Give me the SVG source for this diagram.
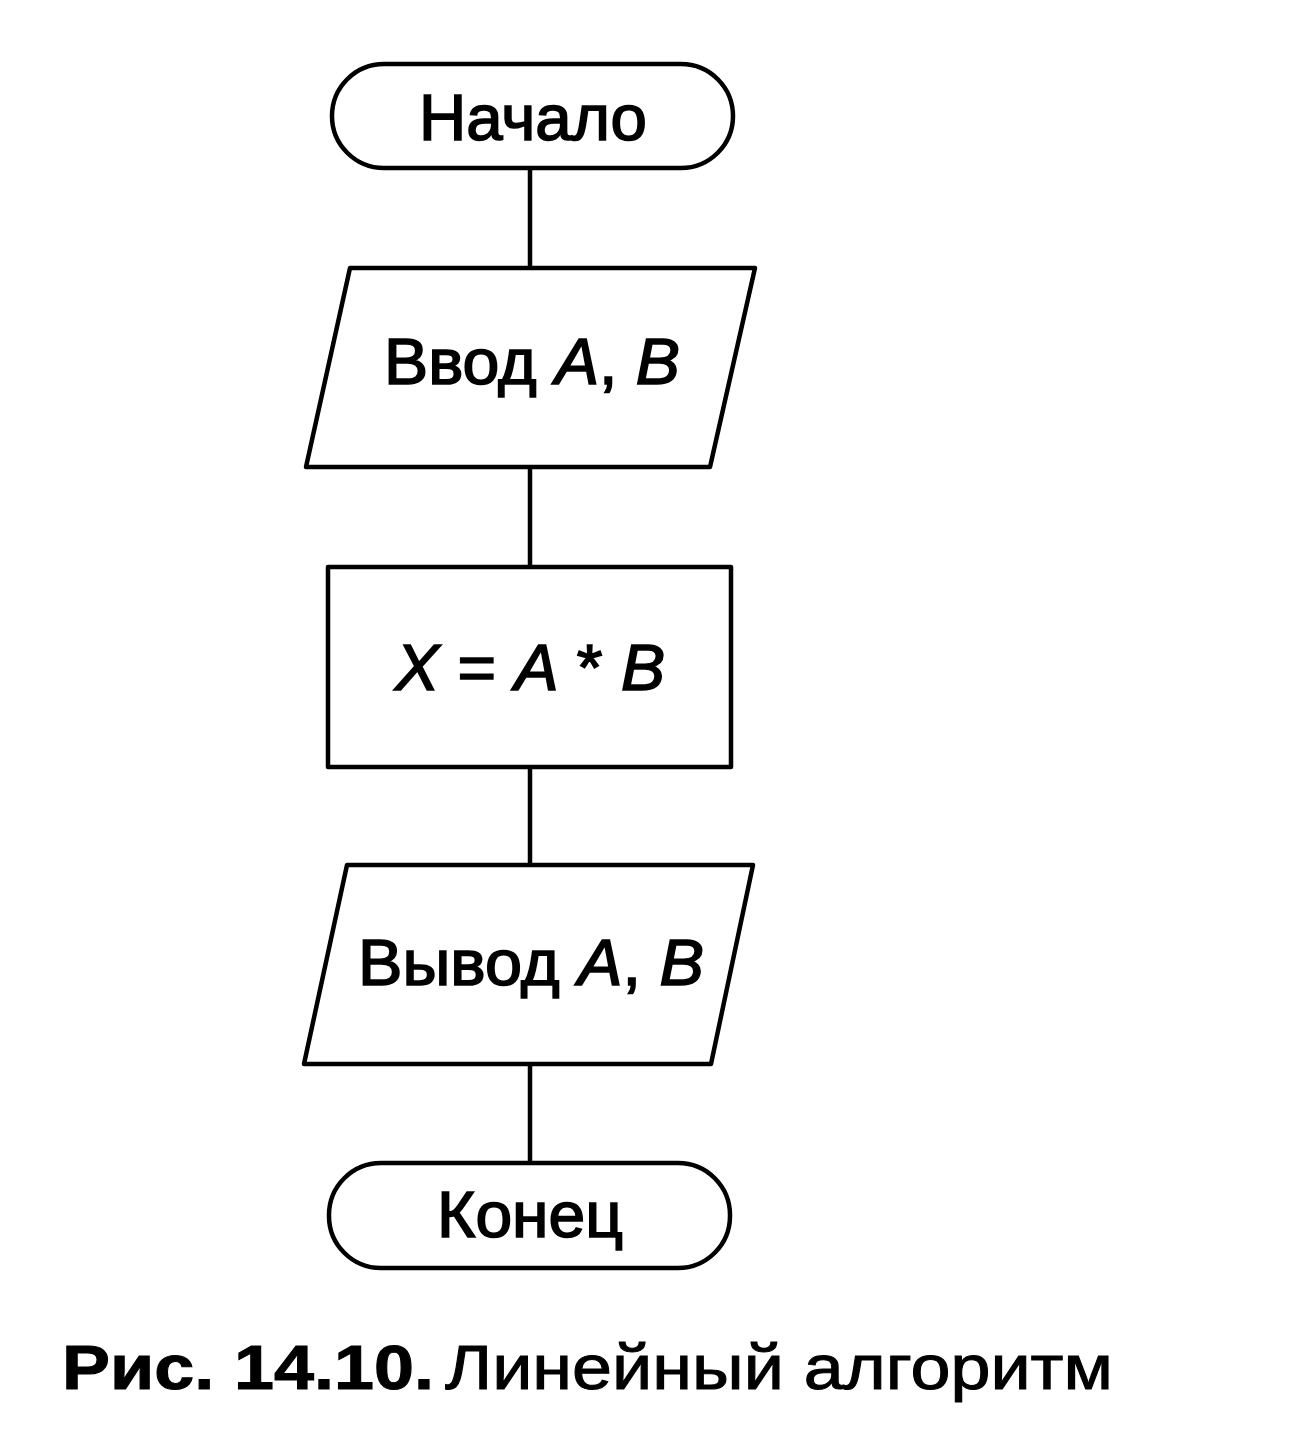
<svg xmlns="http://www.w3.org/2000/svg" width="1312" height="1443" viewBox="0 0 1312 1443">
<style>
.s{fill:#fff;stroke:#000;stroke-width:4.5;stroke-linejoin:round}
.c{stroke:#000;stroke-width:4.5;fill:none}
.t{font-family:"Liberation Sans",Arial,sans-serif;font-size:64px;fill:#000;stroke:#000;stroke-width:1.6;text-anchor:middle}
.i{font-style:italic}
.cap{font-family:"Liberation Sans",Arial,sans-serif;font-size:63px;fill:#000;stroke:#000;stroke-width:1}
</style>
<rect width="1312" height="1443" fill="#fff"/>
<g id="connectors">
<line class="c" x1="530" y1="168" x2="530" y2="268"/>
<line class="c" x1="530" y1="467" x2="530" y2="567"/>
<line class="c" x1="530" y1="767" x2="530" y2="865"/>
<line class="c" x1="530" y1="1064" x2="530" y2="1163"/>
</g>
<g id="start">
<rect class="s" x="332" y="64" width="401" height="104" rx="52" ry="52"/>
<text class="t" x="533" y="140" textLength="228" lengthAdjust="spacingAndGlyphs">Начало</text>
</g>
<g id="input">
<polygon class="s" points="350,268 755,268 710,467 306,467"/>
<text class="t" x="532" y="384" textLength="296" lengthAdjust="spacingAndGlyphs">Ввод <tspan class="i">A</tspan>, <tspan class="i">B</tspan></text>
</g>
<g id="process">
<rect class="s" x="328" y="567" width="403" height="200"/>
<text class="t" x="530" y="690" textLength="270" lengthAdjust="spacingAndGlyphs"><tspan class="i">X</tspan> = <tspan class="i">A</tspan> * <tspan class="i">B</tspan></text>
</g>
<g id="output">
<polygon class="s" points="347,865 753,865 711,1064 304,1064"/>
<text class="t" x="531" y="985" textLength="346" lengthAdjust="spacingAndGlyphs">Вывод <tspan class="i">A</tspan>, <tspan class="i">B</tspan></text>
</g>
<g id="end">
<rect class="s" x="329" y="1163" width="401" height="105" rx="52" ry="52"/>
<text class="t" x="530" y="1237" textLength="186" lengthAdjust="spacingAndGlyphs">Конец</text>
</g>
<g id="caption">
<text class="cap" x="62" y="1389"><tspan font-weight="bold" textLength="372" lengthAdjust="spacingAndGlyphs">Рис. 14.10.</tspan><tspan x="445" textLength="668" lengthAdjust="spacingAndGlyphs">Линейный алгоритм</tspan></text>
</g>
</svg>
